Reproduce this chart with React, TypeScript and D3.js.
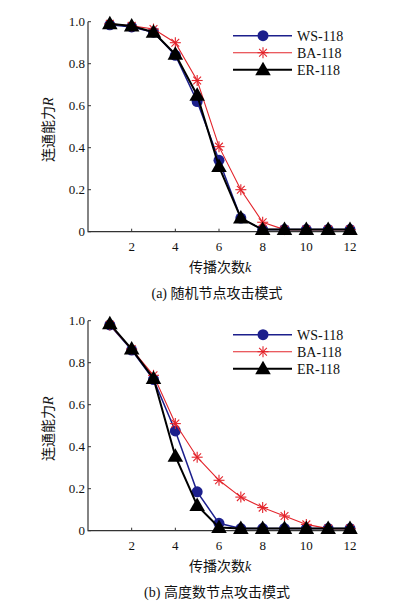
import React from 'react';
import * as d3 from 'd3';

// spread count k
const steps = [1, 2, 3, 4, 5, 6, 7, 8, 9, 10, 11, 12];
const xTicks = [2, 4, 6, 8, 10, 12];
const yTicks = [0, 0.2, 0.4, 0.6, 0.8, 1.0];

// (a) random node attack
const wsRandom = [0.985, 0.975, 0.95, 0.84, 0.62, 0.34, 0.065, 0.01, 0.01, 0.01, 0.01, 0.01];
const baRandom = [0.99, 0.98, 0.965, 0.9, 0.72, 0.405, 0.2, 0.045, 0.01, 0.01, 0.01, 0.01];
const erRandom = [0.99, 0.98, 0.95, 0.845, 0.65, 0.31, 0.065, 0.01, 0.01, 0.01, 0.01, 0.01];

// (b) high degree node attack
const wsDegree = [0.98, 0.86, 0.72, 0.475, 0.185, 0.035, 0.01, 0.01, 0.01, 0.01, 0.01, 0.01];
const baDegree = [0.98, 0.865, 0.74, 0.51, 0.35, 0.24, 0.16, 0.11, 0.07, 0.03, 0.01, 0.01];
const erDegree = [0.985, 0.865, 0.725, 0.355, 0.12, 0.015, 0.01, 0.01, 0.01, 0.01, 0.01, 0.01];

const seriesNames = ['WS-118', 'BA-118', 'ER-118'];
const colors = ['#1c1f8c', '#e3242b', '#000000'];
const widths = [1.5, 1.1, 2];

const serif = '"Liberation Serif", "Times New Roman", "Noto Sans CJK SC", serif';

const Marker = ({ kind, x, y }: { kind: number; x: number; y: number }) => {
  if (kind === 0) return <circle cx={x} cy={y} r={5.5} fill={colors[0]} />;
  if (kind === 1) {
    const r = 5.5;
    const d = r * 0.7071;
    return (
      <g stroke={colors[1]} strokeWidth={1.1}>
        <line x1={x} y1={y - r} x2={x} y2={y + r} />
        <line x1={x - r} y1={y} x2={x + r} y2={y} />
        <line x1={x - d} y1={y - d} x2={x + d} y2={y + d} />
        <line x1={x - d} y1={y + d} x2={x + d} y2={y - d} />
      </g>
    );
  }
  const tri = d3.symbol(d3.symbolTriangle, 105)();
  return <path d={tri || ''} transform={`translate(${x},${y + 1})`} fill={colors[2]} />;
};

const Panel = ({ top, data, caption }: { top: number; data: number[][]; caption: string }) => {
  const x = d3.scaleLinear().domain([0, 12]).range([88, 350]);
  const y = d3.scaleLinear().domain([0, 1]).range([top + 210, top]);
  const line = d3.line<number>().x((_, i) => x(steps[i])).y((v) => y(v));
  const x0 = x(0);
  const xEnd = x(12.25);
  const y0 = y(0);

  return (
    <g fontFamily={serif} fill="#111">
      {/* axes */}
      <path d={`M${x0},${y(1)} V${y0} H${xEnd}`} fill="none" stroke="#333" strokeWidth={1.2} />
      {yTicks.map((t) => (
        <g key={t}>
          <line x1={x0} x2={x0 + 3} y1={y(t)} y2={y(t)} stroke="#333" />
          <text x={x0 - 3} y={y(t)} dy="0.35em" textAnchor="end" fontSize={13}>
            {t === 0 ? '0' : t.toFixed(1)}
          </text>
        </g>
      ))}
      {xTicks.map((t) => (
        <g key={t}>
          <line x1={x(t)} x2={x(t)} y1={y0} y2={y0 - 3} stroke="#333" />
          <text x={x(t)} y={y0 + 15} dy="0.35em" textAnchor="middle" fontSize={13}>
            {t}
          </text>
        </g>
      ))}
      <text x={220} y={y0 + 35} dy="0.35em" textAnchor="middle" fontSize={14}>
        传播次数<tspan fontStyle="italic">k</tspan>
      </text>
      <text
        transform={`translate(48,${top + 108}) rotate(-90)`}
        textAnchor="middle"
        dy="0.35em"
        fontSize={14}
      >
        连通能力<tspan fontStyle="italic">R</tspan>
      </text>
      <text x={217} y={y0 + 61} dy="0.35em" textAnchor="middle" fontSize={14}>
        {caption}
      </text>

      {/* series */}
      {data.map((vals, s) => (
        <g key={s}>
          <path d={line(vals) || ''} fill="none" stroke={colors[s]} strokeWidth={widths[s]} />
          {vals.map((v, i) => (
            <Marker key={i} kind={s} x={x(steps[i])} y={y(v)} />
          ))}
        </g>
      ))}

      {/* legend */}
      {seriesNames.map((name, s) => {
        const ly = top + 14 + s * 17;
        return (
          <g key={name}>
            <line x1={233} x2={292} y1={ly} y2={ly} stroke={colors[s]} strokeWidth={widths[s]} />
            <Marker kind={s} x={263} y={ly} />
            <text x={297} y={ly} dy="0.35em" fontSize={14}>
              {name}
            </text>
          </g>
        );
      })}
    </g>
  );
};

export default function App() {
  return (
    <svg
      width={393}
      height={606}
      style={{ position: 'absolute', left: 0, top: 0, background: '#fff' }}
    >
      <rect width={393} height={606} fill="#fff" />
      <Panel top={21.7} data={[wsRandom, baRandom, erRandom]} caption="(a) 随机节点攻击模式" />
      <Panel top={320.7} data={[wsDegree, baDegree, erDegree]} caption="(b) 高度数节点攻击模式" />
    </svg>
  );
}
